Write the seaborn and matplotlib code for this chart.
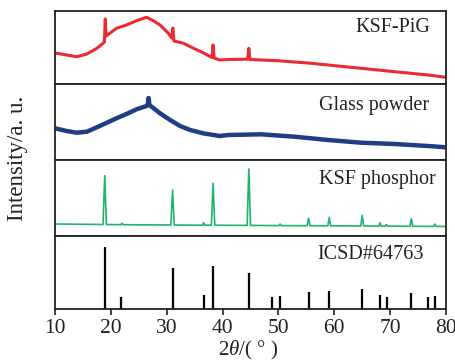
import numpy as np
import matplotlib
matplotlib.use("Agg")
import matplotlib.pyplot as plt
import seaborn as sns

# 2theta positions (deg) and intensities (a.u.) for each pattern
pig_x = [10.0, 12.1, 13.9, 15.7, 17.5, 18.6, 18.85, 19.0, 19.15, 19.4, 21.0, 22.8,
         24.6, 26.4, 27.6, 28.8, 30.3, 30.9, 31.1, 31.3, 33.0, 34.8, 36.5, 38.1,
         38.3, 38.5, 39.5, 41.0, 44.5, 44.7, 44.9, 49.9, 55.9, 61.9, 64.8, 70.8,
         76.8, 80.0]
pig_y = [31.0, 29.0, 27.3, 30.0, 35.7, 40.7, 42.0, 65.0, 48.0, 49.0, 55.7, 59.0,
         63.3, 66.7, 63.3, 59.0, 50.7, 46.0, 56.0, 43.0, 40.7, 35.7, 31.3, 26.5,
         39.0, 26.0, 24.0, 24.5, 24.8, 35.7, 24.5, 23.3, 20.7, 17.3, 15.7, 12.3,
         9.0, 6.7]

glass_x = [10.0, 12.1, 13.9, 15.7, 17.5, 19.3, 21.0, 22.8, 24.6, 26.4, 26.6, 26.75,
           26.9, 27.3, 28.8, 30.6, 32.4, 34.2, 36.5, 39.5, 41.0, 46.9, 52.9, 58.9,
           64.8, 70.8, 76.8, 80.0]
glass_y = [31.7, 29.0, 27.3, 28.3, 32.7, 37.3, 41.7, 46.0, 50.7, 54.0, 55.0, 62.0,
           55.0, 53.3, 46.7, 40.0, 34.0, 30.0, 26.7, 24.0, 25.0, 25.7, 23.3, 20.0,
           17.3, 16.0, 14.0, 12.7]

ksf_x = [10.0, 18.6, 18.9, 19.2, 21.8, 22.0, 22.2, 30.75, 31.05, 31.35, 36.4, 36.6,
         36.8, 38.0, 38.3, 38.6, 44.4, 44.7, 45.0, 50.1, 50.3, 50.5, 55.15, 55.4,
         55.65, 58.85, 59.1, 59.35, 64.75, 65.0, 65.25, 68.0, 68.2, 68.4, 69.1, 69.3,
         69.5, 73.55, 73.8, 74.05, 77.8, 78.0, 78.2, 80.0]
ksf_y = [12.0, 11.5, 60.3, 11.5, 11.3, 12.8, 11.3, 11.0, 46.0, 11.0, 10.8, 13.3,
         10.8, 10.8, 52.7, 10.8, 10.6, 67.0, 10.6, 10.4, 12.0, 10.4, 10.3, 17.7,
         10.3, 10.2, 18.7, 10.2, 10.0, 20.7, 10.0, 9.9, 13.3, 9.9, 9.9, 11.5,
         9.9, 9.7, 17.3, 9.7, 9.6, 12.0, 9.6, 9.5]

icsd_pos = [18.95, 21.9, 31.1, 36.7, 38.3, 44.67, 48.85, 50.2, 55.4, 59.05, 64.96,
            68.25, 69.4, 73.7, 76.8, 77.97]
icsd_int = [61.7, 12.3, 40.7, 14.0, 43.0, 35.7, 11.7, 13.3, 16.7, 18.0, 19.7,
            14.0, 12.3, 15.7, 12.0, 13.3]

labels = ["KSF-PiG", "Glass powder", "KSF phosphor", "ICSD#64763"]
x_ticks = [10, 20, 30, 40, 50, 60, 70, 80]

sns.set_style("ticks")
plt.rcParams["font.family"] = ["Liberation Serif", "DejaVu Serif"]
plt.rcParams["mathtext.fontset"] = "custom"
plt.rcParams["mathtext.it"] = "Liberation Serif:italic"
plt.rcParams["mathtext.rm"] = "Liberation Serif"

fig = plt.figure(figsize=(4.56, 3.63), dpi=100)
gs = fig.add_gridspec(4, 1, height_ratios=[73, 76, 76, 73], hspace=0,
                      left=55 / 456, right=446 / 456, top=1 - 11 / 363,
                      bottom=1 - 309 / 363)
axes = [fig.add_subplot(gs[i]) for i in range(4)]

sns.lineplot(x=pig_x, y=pig_y, ax=axes[0], color="#ec2a30", lw=2.2)
sns.lineplot(x=glass_x, y=glass_y, ax=axes[1], color="#1e3d82", lw=3.2)
sns.lineplot(x=ksf_x, y=ksf_y, ax=axes[2], color="#1fb46a", lw=1.2)
axes[3].vlines(icsd_pos, 0, icsd_int, color="black", lw=1.6)

ylims = [73, 76, 76, 73]
label_pos = [(0.959, 0.78), (0.958, 0.72), (0.975, 0.737), (0.943, 0.74)]
for ax, top, lab, (tx, ty) in zip(axes, ylims, labels, label_pos):
    ax.set_xlim(10, 80)
    ax.set_ylim(0, top)
    ax.set_yticks([])
    ax.set_ylabel("")
    for sp in ax.spines.values():
        sp.set_visible(True)
        sp.set_linewidth(1.3)
        sp.set_color("#222222")
    ax.text(tx, ty, lab, transform=ax.transAxes, ha="right", va="center",
            fontsize=14.5, color="#222222")
    ax.set_xticks(x_ticks)
    if ax is not axes[-1]:
        ax.tick_params(axis="x", bottom=False, labelbottom=False)

axes[-1].tick_params(axis="x", direction="out", length=4, width=1.2,
                     labelsize=15.5, colors="#222222", pad=3)
axes[-1].set_xticklabels([str(t) for t in x_ticks])

fig.text(18 / 456, 1 - 158 / 363, "Intensity/a. u.", rotation=90,
         ha="center", va="center", fontsize=16.5, color="#222222")
fig.text(248 / 456, 1 - 350 / 363, r"2$\theta$/( ° )", ha="center", va="center",
         fontsize=15, color="#222222")

fig.savefig("out.png", dpi=100)
